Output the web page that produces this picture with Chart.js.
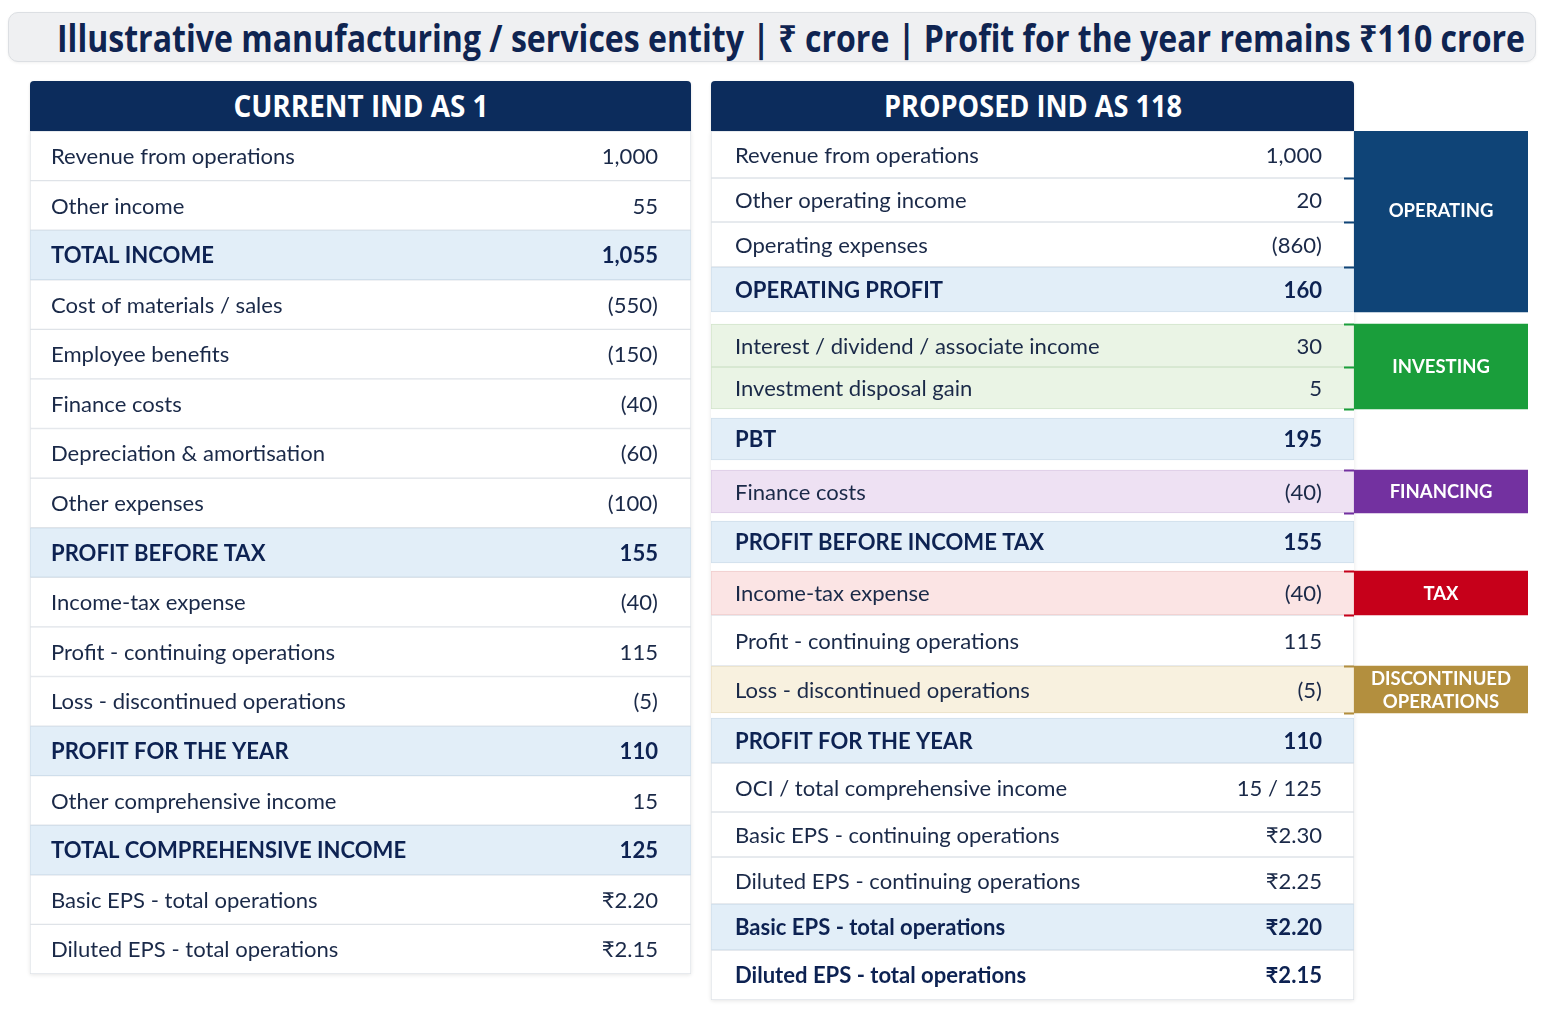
<!DOCTYPE html>
<html><head><meta charset="utf-8">
<script src="https://cdn.jsdelivr.net/npm/chart.js@4.4.1/dist/chart.umd.min.js"></script>
<style>
html,body{margin:0;padding:0;background:#ffffff;width:1544px;height:1018px;overflow:hidden;}
#page{position:relative;width:1544px;height:1018px;}
.titlebox{position:absolute;left:8px;top:12px;width:1526px;height:48px;background:#eff0f2;border:1px solid #dcdfe3;border-radius:10px;box-shadow:0 1px 3px rgba(0,0,0,0.06);}
#title{position:absolute;left:57px;top:37px;transform-origin:0 50%;white-space:nowrap;font-family:'Open Sans','Noto Sans','DejaVu Sans',sans-serif;font-weight:700;font-size:37px;color:#0f2451;line-height:1;}
.hdr{position:absolute;top:81px;height:50px;background:#0c2c5c;border-radius:4px 4px 0 0;box-shadow:0 1px 3px rgba(0,0,0,0.12);}
.hdr span{position:absolute;left:50%;top:50%;white-space:nowrap;font-family:'Open Sans','Noto Sans',sans-serif;font-weight:700;font-size:30px;color:#ffffff;line-height:1;transform-origin:50% 50%;}
canvas{position:absolute;}
.shadow{position:absolute;box-shadow:0 1px 4px rgba(0,0,0,0.10);}
</style></head>
<body><div id="page">
<div class="titlebox"></div>
<div id="title">Illustrative manufacturing / services entity | ₹ crore | Profit for the year remains ₹110 crore</div>
<div class="shadow" style="left:30px;top:131px;width:661px;height:843px;"></div>
<div class="shadow" style="left:711px;top:131px;width:643px;height:869px;"></div>
<div class="hdr" style="left:30px;width:661px;"><span id="h1">CURRENT IND AS 1</span></div>
<div class="hdr" style="left:711px;width:643px;"><span id="h2">PROPOSED IND AS 118</span></div>
<canvas id="left" width="661" height="843" style="left:30px;top:131px;"></canvas>
<canvas id="right" width="643" height="869" style="left:711px;top:131px;"></canvas>
<canvas id="tags" width="184" height="869" style="left:1344px;top:131px;"></canvas>
</div>
<script>
// ---------- data ----------
const leftLabels = ['Revenue from operations','Other income','TOTAL INCOME','Cost of materials / sales','Employee benefits','Finance costs','Depreciation & amortisation','Other expenses','PROFIT BEFORE TAX','Income-tax expense','Profit - continuing operations','Loss - discontinued operations','PROFIT FOR THE YEAR','Other comprehensive income','TOTAL COMPREHENSIVE INCOME','Basic EPS - total operations','Diluted EPS - total operations'];
const leftValues = ['1,000','55','1,055','(550)','(150)','(40)','(60)','(100)','155','(40)','115','(5)','110','15','125','₹2.20','₹2.15'];
const leftKinds = ['plain','plain','total','plain','plain','plain','plain','plain','total','plain','plain','plain','total','plain','total','plain','plain'];

const rightLabels = ['Revenue from operations','Other operating income','Operating expenses','OPERATING PROFIT','Interest / dividend / associate income','Investment disposal gain','PBT','Finance costs','PROFIT BEFORE INCOME TAX','Income-tax expense','Profit - continuing operations','Loss - discontinued operations','PROFIT FOR THE YEAR','OCI / total comprehensive income','Basic EPS - continuing operations','Diluted EPS - continuing operations','Basic EPS - total operations','Diluted EPS - total operations'];
const rightValues = ['1,000','20','(860)','160','30','5','195','(40)','155','(40)','115','(5)','110','15 / 125','₹2.30','₹2.25','₹2.20','₹2.15'];
const rightKinds = ['plain','plain','plain','total','invest','invest','total','finance','total','tax','plain','disc','total','plain','plain','plain','total','bold'];

const tagNames = ['OPERATING','INVESTING','FINANCING','TAX','DISCONTINUED\nOPERATIONS'];
const tagFirstRow = [0,4,7,9,11];
const tagLastRow = [3,5,7,9,11];

// ---------- layout / styles ----------
const rightRowSpan  = [47,44,45,45,43,42,42,43,42,44,51,47,45,49,45,47,46,50];
const rightGapBefore = [0,0,0,0,12,0,9,10,8,8,0,0,5,0,0,0,0,0];
const kindStyle = {
  plain:{bg:'#ffffff',border:'#dfe3e8',bold:false},
  bold:{bg:'#ffffff',border:'#dfe3e8',bold:true},
  total:{bg:'#e2eef8',border:'#cfdeeb',bold:true},
  invest:{bg:'#eaf4e5',border:'#d2e4cb',bold:false},
  finance:{bg:'#eee1f3',border:'#dccbe6',bold:false},
  tax:{bg:'#fbe4e4',border:'#efcdcd',bold:false},
  disc:{bg:'#f8f1df',border:'#eadfc4',bold:false}
};
const tagColors = ['#0f4477','#1a9e3b','#7331a0','#c6001a','#b38f3e'];
const textColor = '#1a2948', boldColor = '#0d2252';

// fit title / headers
function fit(el, w){ const r = el.getBoundingClientRect().width; return w / r; }
const t = document.getElementById('title');
t.style.transform = 'translateY(-50%) scaleX(' + fit(t,1468) + ')';
const h1 = document.getElementById('h1'), h2 = document.getElementById('h2');
h1.style.transform = 'translate(-50%,-50%) scaleX(' + fit(h1,255) + ')';
h2.style.transform = 'translate(-50%,-50%) scaleX(' + fit(h2,298) + ')';

// body font size from reference width of "Revenue from operations" (244px)
const mctx = document.createElement('canvas').getContext('2d');
mctx.font = '21px Lato';
const bodyPx = 21 * 244 / mctx.measureText('Revenue from operations').width;

function rowBounds(n, gaps, spans){
  let y = 0; const b = [];
  for (let i = 0; i < n; i++){
    y += (gaps && gaps[i]) || 0;
    const h = spans ? spans[i] : 1;
    b.push([y, y + h]); y += h;
  }
  return {b, total: y};
}

function textPlugin(labels, values, kinds, padL, padR){
  return {
    id:'rowText',
    afterDatasetsDraw(chart){
      const ctx = chart.ctx;
      ctx.save();
      ctx.textBaseline = 'middle';
      labels.forEach((lab,i)=>{
        const el = chart.getDatasetMeta(i).data[0];
        const yc = (el.y + el.base) / 2;
        const st = kindStyle[kinds[i]];
        ctx.fillStyle = st.bold ? boldColor : textColor;
        ctx.font = (st.bold ? '700 ' : '400 ') + bodyPx.toFixed(2) + 'px Lato, "DejaVu Sans", sans-serif';
        ctx.textAlign = 'left';
        ctx.fillText(lab, el.x - el.width/2 + padL, yc + 1);
        ctx.textAlign = 'right';
        ctx.fillText(values[i], el.x + el.width/2 - padR, yc + 1);
      });
      ctx.restore();
    }
  };
}

function makePanel(id, labels, values, kinds, gaps, spans, padL, padR){
  const {b, total} = rowBounds(labels.length, gaps, spans);
  const datasets = labels.map((lab,i)=>({
    label: lab,
    data: [b[i]],
    backgroundColor: kindStyle[kinds[i]].bg,
    borderColor: kindStyle[kinds[i]].border,
    borderWidth: 1,
    borderSkipped: false,
    grouped: false,
    barPercentage: 1,
    categoryPercentage: 1
  }));
  return new Chart(document.getElementById(id), {
    type:'bar',
    data:{labels:['rows'], datasets},
    options:{
      responsive:false, animation:false, events:[],
      layout:{padding:0},
      plugins:{legend:{display:false}, tooltip:{enabled:false}},
      scales:{x:{display:false}, y:{display:false, min:0, max:total, reverse:true}}
    },
    plugins:[textPlugin(labels, values, kinds, padL, padR)]
  });
}

makePanel('left', leftLabels, leftValues, leftKinds, null, null, 21, 33);
makePanel('right', rightLabels, rightValues, rightKinds, rightGapBefore, rightRowSpan, 24, 32);

// tags
const rb = rowBounds(rightLabels.length, rightGapBefore, rightRowSpan);
const tagDatasets = tagNames.map((n,i)=>({
  label: n,
  data: [[rb.b[tagFirstRow[i]][0], rb.b[tagLastRow[i]][1]]],
  backgroundColor: tagColors[i],
  borderWidth: 0,
  grouped: false,
  barPercentage: 1,
  categoryPercentage: 1
}));
const tagPlugin = {
  id:'tagText',
  afterDatasetsDraw(chart){
    const ctx = chart.ctx, ys = chart.scales.y;
    ctx.save();
    tagNames.forEach((n,i)=>{
      const el = chart.getDatasetMeta(i).data[0];
      ctx.strokeStyle = tagColors[i];
      ctx.lineWidth = 2;
      const bounds = [];
      for (let r = tagFirstRow[i]; r <= tagLastRow[i]; r++){
        if (rb.b[r][0] > 0) bounds.push(rb.b[r][0]);
      }
      if (i > 0) bounds.push(rb.b[tagLastRow[i]][1]);
      bounds.forEach(v=>{
        const y = Math.round(ys.getPixelForValue(v)) + 0.5;
        ctx.beginPath(); ctx.moveTo(el.x - el.width/2 - 10, y); ctx.lineTo(el.x - el.width/2, y); ctx.stroke();
      });
      const lines = n.split('\n');
      const yc = (el.y + el.base) / 2 - (i === 0 ? 11 : 0);
      ctx.fillStyle = '#ffffff';
      ctx.font = '700 18.5px Lato, "DejaVu Sans", sans-serif';
      ctx.textAlign = 'center';
      ctx.textBaseline = 'middle';
      const lh = 23;
      lines.forEach((ln,k)=>{
        ctx.fillText(ln, el.x, yc + (k - (lines.length-1)/2) * lh + 1);
      });
    });
    ctx.restore();
  }
};
new Chart(document.getElementById('tags'), {
  type:'bar',
  data:{labels:['tags'], datasets: tagDatasets},
  options:{
    responsive:false, animation:false, events:[],
    layout:{padding:{left:10, right:0, top:0, bottom:0}},
    plugins:{legend:{display:false}, tooltip:{enabled:false}},
    scales:{x:{display:false}, y:{display:false, min:0, max:rb.total, reverse:true}}
  },
  plugins:[tagPlugin]
});
</script>
</body></html>
